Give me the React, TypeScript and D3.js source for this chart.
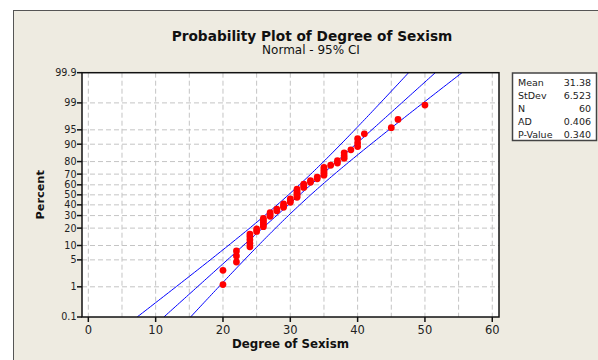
import React, { useEffect, useRef } from "react";
import * as d3 from "d3";

// Degree of Sexism scores (sorted)
const scores = [
  20, 20,
  22, 22, 22,
  24, 24, 24, 24, 24,
  25, 25,
  26, 26, 26, 26, 26,
  27, 27, 27,
  28, 28,
  29, 29, 29,
  30, 30, 30,
  31, 31, 31, 31, 31, 31,
  32, 32, 32,
  33, 33,
  34, 34,
  35, 35, 35, 35, 35,
  36,
  37, 37,
  38, 38, 38,
  39,
  40, 40, 40,
  41,
  45,
  46,
  50,
];

const xTicks = [0, 10, 20, 30, 40, 50, 60];
const xGrid = [0, 5, 10, 15, 20, 25, 30, 35, 40, 45, 50, 55, 60];
const yTicks = [0.1, 1, 5, 10, 20, 30, 40, 50, 60, 70, 80, 90, 95, 99, 99.9];

const statLabels = ["Mean", "StDev", "N", "AD", "P-Value"];
const statValues = ["31.38", "6.523", "60", "0.406", "0.340"];
const mean = 31.38;
const stdev = 6.523;
const n = 60;

// inverse normal CDF (Acklam)
function probit(p: number): number {
  const a = [-39.69683028665376, 220.9460984245205, -275.9285104469687, 138.357751867269, -30.66479806614716, 2.506628277459239];
  const b = [-54.47609879822406, 161.5858368580409, -155.6989798598866, 66.80131188771972, -13.28068155288572];
  const c = [-0.007784894002430293, -0.3223964580411365, -2.400758277161838, -2.549732539343734, 4.374664141464968, 2.938163982698783];
  const d = [0.007784695709041462, 0.3224671290700398, 2.445134137142996, 3.754408661907416];
  const plow = 0.02425;
  if (p < plow) {
    const q = Math.sqrt(-2 * Math.log(p));
    return (((((c[0] * q + c[1]) * q + c[2]) * q + c[3]) * q + c[4]) * q + c[5]) /
      ((((d[0] * q + d[1]) * q + d[2]) * q + d[3]) * q + 1);
  }
  if (p > 1 - plow) {
    const q = Math.sqrt(-2 * Math.log(1 - p));
    return -(((((c[0] * q + c[1]) * q + c[2]) * q + c[3]) * q + c[4]) * q + c[5]) /
      ((((d[0] * q + d[1]) * q + d[2]) * q + d[3]) * q + 1);
  }
  const q = p - 0.5;
  const r = q * q;
  return (((((a[0] * r + a[1]) * r + a[2]) * r + a[3]) * r + a[4]) * r + a[5]) * q /
    (((((b[0] * r + b[1]) * r + b[2]) * r + b[3]) * r + b[4]) * r + 1);
}

const ProbPlot = () => {
  const svgRef = useRef<SVGSVGElement>(null);

  useEffect(() => {
    const svg = d3.select(svgRef.current);
    svg.selectAll("*").remove();

    const width = 598;
    const height = 360;
    const margin = { top: 72.7, right: 99, bottom: 43, left: 82 };
    const font = "DejaVu Sans, Verdana, sans-serif";

    // outer frame
    svg.append("rect")
      .attr("x", 13.5).attr("y", 10.5)
      .attr("width", 700).attr("height", 500)
      .attr("fill", "#eeebe1")
      .attr("stroke", "#555")
      .attr("stroke-width", 1);

    const zMax = probit(0.999);
    const xScale = d3.scaleLinear()
      .domain([-0.94, 61.0])
      .range([margin.left, width - margin.right]);
    const yScale = d3.scaleLinear()
      .domain([-zMax, zMax])
      .range([height - margin.bottom, margin.top]);
    const yP = (pct: number) => yScale(probit(pct / 100));

    const x0 = margin.left, x1 = width - margin.right;
    const y0 = margin.top, y1 = height - margin.bottom;

    svg.append("rect")
      .attr("x", x0).attr("y", y0)
      .attr("width", x1 - x0).attr("height", y1 - y0)
      .attr("fill", "#fff");

    svg.append("defs").append("clipPath").attr("id", "plotclip")
      .append("rect")
      .attr("x", x0).attr("y", y0)
      .attr("width", x1 - x0).attr("height", y1 - y0);

    // grid
    const grid = svg.append("g")
      .attr("stroke", "#c4c4c4")
      .attr("stroke-width", 1)
      .attr("stroke-dasharray", "5,3");
    xGrid.forEach((v) => {
      grid.append("line")
        .attr("x1", xScale(v)).attr("x2", xScale(v))
        .attr("y1", y0).attr("y2", y1);
    });
    yTicks.slice(1, -1).forEach((v) => {
      grid.append("line")
        .attr("x1", x0).attr("x2", x1)
        .attr("y1", yP(v)).attr("y2", yP(v));
    });

    // fitted line and 95% CI
    const zs = d3.range(-zMax, zMax + 1e-9, zMax / 60);
    const fitX = (z: number) => mean + stdev * z;
    const se = (z: number) => stdev * Math.sqrt(1 / n + (z * z) / (2 * n));
    const lineGen = (f: (z: number) => number) =>
      d3.line<number>().x((z) => xScale(f(z))).y((z) => yScale(z))(zs);

    const lines = svg.append("g")
      .attr("clip-path", "url(#plotclip)")
      .attr("fill", "none")
      .attr("stroke", "#0000ff")
      .attr("stroke-width", 1);
    lines.append("path").attr("d", lineGen(fitX));
    lines.append("path").attr("d", lineGen((z) => fitX(z) - 1.96 * se(z)));
    lines.append("path").attr("d", lineGen((z) => fitX(z) + 1.96 * se(z)));

    // points at median ranks
    svg.append("g")
      .attr("fill", "#ff0000")
      .selectAll("circle")
      .data(scores)
      .join("circle")
      .attr("cx", (d) => xScale(d))
      .attr("cy", (d, i) => yScale(probit((i + 1 - 0.3) / (n + 0.4))))
      .attr("r", 3.4);

    // plot frame
    svg.append("rect")
      .attr("x", x0).attr("y", y0)
      .attr("width", x1 - x0).attr("height", y1 - y0)
      .attr("fill", "none")
      .attr("stroke", "#111")
      .attr("stroke-width", 1.5);

    // x axis ticks + labels
    xTicks.forEach((v) => {
      svg.append("line")
        .attr("x1", xScale(v)).attr("x2", xScale(v))
        .attr("y1", y1).attr("y2", y1 + 5)
        .attr("stroke", "#111").attr("stroke-width", 1.5);
      svg.append("text")
        .attr("x", xScale(v)).attr("y", y1 + 17)
        .attr("text-anchor", "middle")
        .style("font-family", font)
        .style("font-size", "11.5px")
        .attr("fill", "#222")
        .text(v);
    });

    // y axis ticks + labels
    yTicks.forEach((v) => {
      svg.append("line")
        .attr("x1", x0 - 5).attr("x2", x0)
        .attr("y1", yP(v)).attr("y2", yP(v))
        .attr("stroke", "#111").attr("stroke-width", 1.5);
      svg.append("text")
        .attr("x", x0 - 5.5).attr("y", yP(v) + 3.4)
        .attr("text-anchor", "end")
        .style("font-family", font)
        .style("font-size", "9.6px")
        .attr("fill", "#222")
        .text(v);
    });

    // titles
    svg.append("text")
      .attr("x", 312).attr("y", 40.5)
      .attr("text-anchor", "middle")
      .style("font-family", font)
      .style("font-size", "13.7px")
      .style("font-weight", "bold")
      .attr("fill", "#111")
      .text("Probability Plot of Degree of Sexism");
    svg.append("text")
      .attr("x", 311).attr("y", 54)
      .attr("text-anchor", "middle")
      .style("font-family", font)
      .style("font-size", "12px")
      .attr("fill", "#111")
      .text("Normal - 95% CI");

    svg.append("text")
      .attr("x", (x0 + x1) / 2).attr("y", 347.5)
      .attr("text-anchor", "middle")
      .style("font-family", font)
      .style("font-size", "11.8px")
      .style("font-weight", "bold")
      .attr("fill", "#111")
      .text("Degree of Sexism");
    svg.append("text")
      .attr("transform", `translate(44,${(y0 + y1) / 2}) rotate(-90)`)
      .attr("text-anchor", "middle")
      .style("font-family", font)
      .style("font-size", "11.3px")
      .style("font-weight", "bold")
      .attr("fill", "#111")
      .text("Percent");

    // stats box
    svg.append("rect")
      .attr("x", 512.5).attr("y", 73)
      .attr("width", 84).attr("height", 67.5)
      .attr("fill", "#fff")
      .attr("stroke", "#444")
      .attr("stroke-width", 1.5);
    statLabels.forEach((lab, i) => {
      const y = 85.5 + i * 13;
      svg.append("text")
        .attr("x", 518).attr("y", y)
        .style("font-family", font)
        .style("font-size", "9.5px")
        .attr("fill", "#222")
        .text(lab);
      svg.append("text")
        .attr("x", 591).attr("y", y)
        .attr("text-anchor", "end")
        .style("font-family", font)
        .style("font-size", "9.5px")
        .attr("fill", "#222")
        .text(statValues[i]);
    });
  }, []);

  return <svg ref={svgRef} width={598} height={360} style={{ display: "block" }}></svg>;
};

export default function App() {
  return (
    <div style={{ position: "absolute", left: 0, top: 0 }}>
      <ProbPlot />
    </div>
  );
}
